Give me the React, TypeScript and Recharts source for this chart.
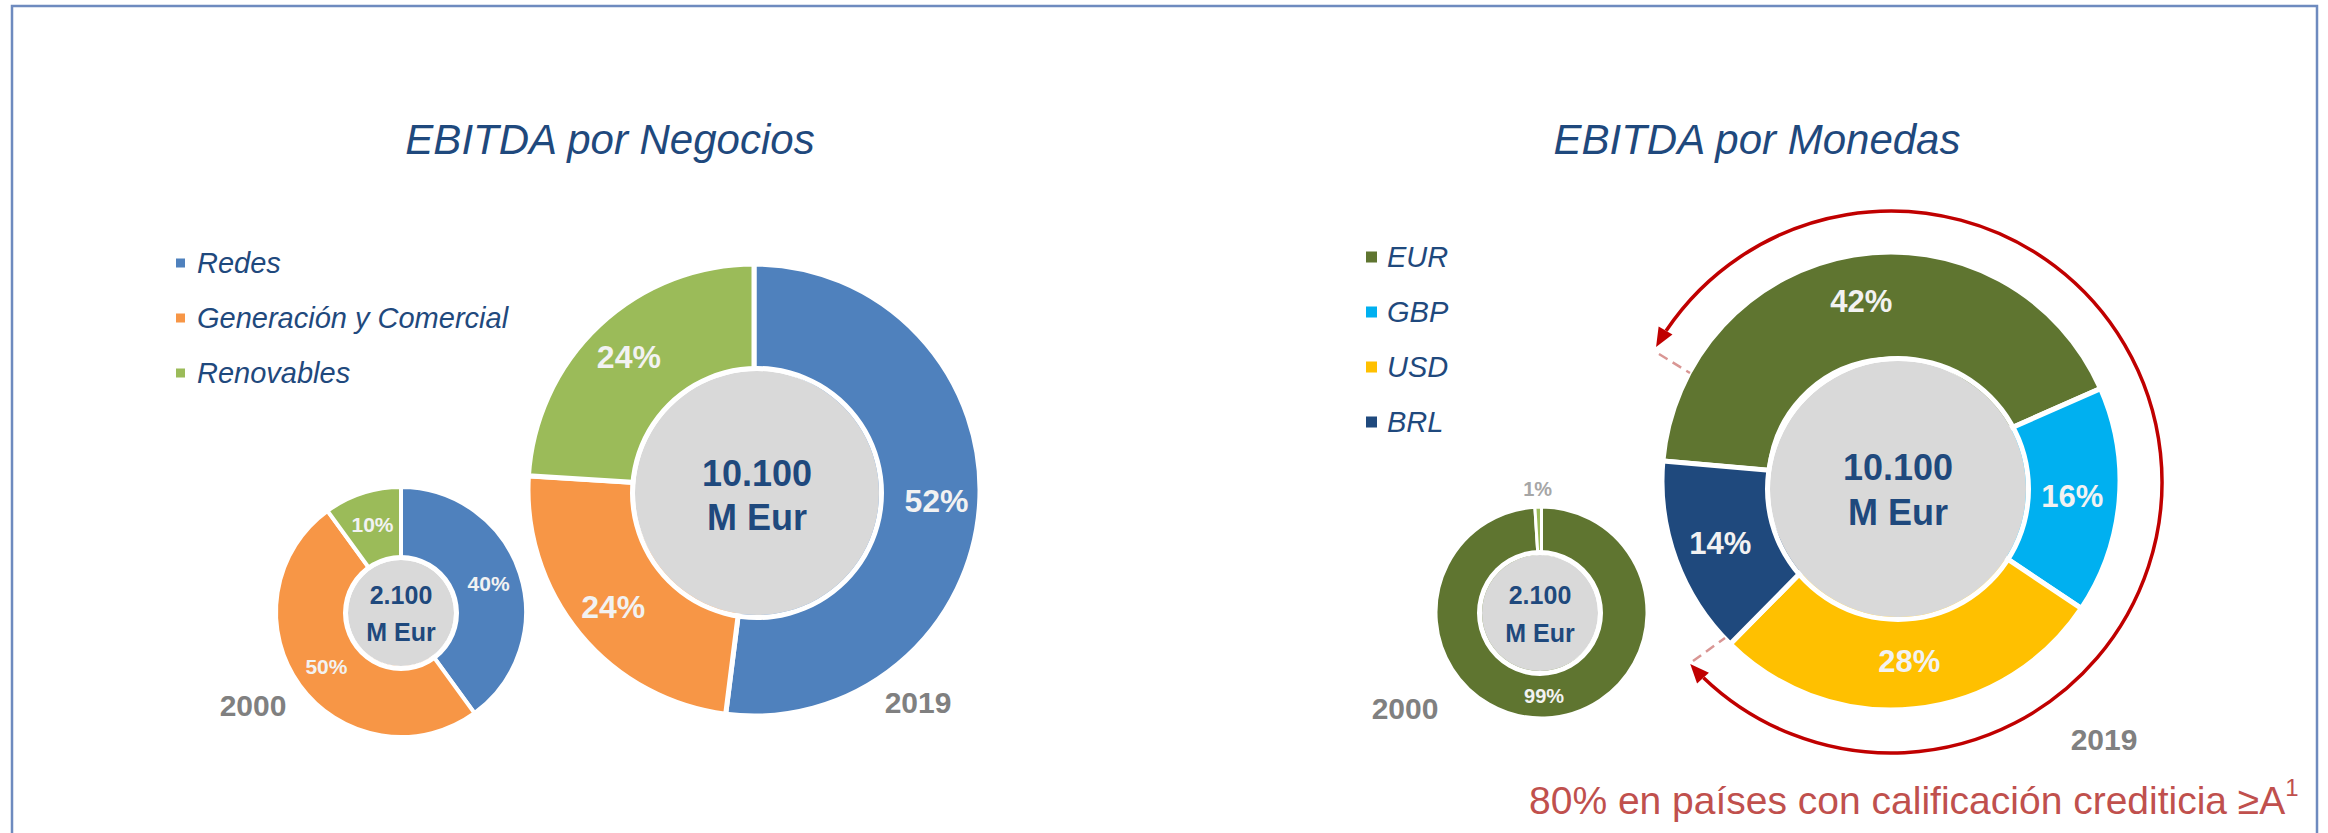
import React from 'react';
import { PieChart, Pie, Cell } from 'recharts';

document.body.style.margin = '0';

const negocios = ['Redes', 'Generación y Comercial', 'Renovables'];
const coloresNegocios = ['#4F81BD', '#F79646', '#9BBB59'];
const negocios2000 = [40, 50, 10];
const negocios2019 = [52, 24, 24];

const monedas = ['EUR', 'GBP', 'USD', 'BRL'];
const coloresMonedas = ['#5F7530', '#00B0F0', '#FFC000', '#1F497D'];
const monedas2019 = [42, 16, 28, 14];
const monedas2000Nombres = ['EUR', 'Otras'];
const monedas2000 = [99, 1];
const coloresMonedas2000 = ['#5F7530', '#9BBB59'];

const totales = ['2.100', '10.100'];
const anios = ['2000', '2019'];
const centro = [{ name: 'total', value: 1 }];

const FONT = '"Liberation Sans", Arial, sans-serif';
const AZUL = '#1F497D';
const GRIS = '#808080';
const RAD = Math.PI / 180;

const toData = (names: string[], values: number[]) =>
  names.map((name, i) => ({ name, value: values[i] }));

const pctLabel = (fontSize: number, f: number) => (p: any) => {
  const small = p.value < 5;
  const r = small ? p.outerRadius + 18 : p.innerRadius + (p.outerRadius - p.innerRadius) * f;
  const x = p.cx + r * Math.cos(-p.midAngle * RAD);
  const y = p.cy + r * Math.sin(-p.midAngle * RAD);
  return (
    <text
      x={x}
      y={y}
      fill={small ? '#A6A6A6' : '#F2F2F2'}
      fontSize={fontSize}
      fontWeight="bold"
      textAnchor="middle"
      dominantBaseline="central"
    >
      {p.value}%
    </text>
  );
};

// circulo gris con borde blanco en el hueco de cada donut
const Hueco = ({ cx, cy, r, ring }: { cx: number; cy: number; r: number; ring: number }) => [
  <Pie key={`g${cx}`} data={centro} dataKey="value" cx={cx} cy={cy} outerRadius={r} startAngle={90} endAngle={-270}
    fill="#D9D9D9" stroke="none" isAnimationActive={false} />,
  <Pie key={`w${cx}`} data={centro} dataKey="value" cx={cx} cy={cy} innerRadius={r} outerRadius={r + ring} startAngle={90}
    endAngle={-270} fill="#fff" stroke="none" isAnimationActive={false} />,
];

// flecha roja alrededor del donut de monedas
const ARC = { cx: 1891, cy: 482, r: 271 };
const pt = (deg: number) => [ARC.cx + ARC.r * Math.cos(deg * RAD), ARC.cy - ARC.r * Math.sin(deg * RAD)];
const HEAD = 19;
const arrowHead = (deg: number, sign: number) => {
  const [tx, ty] = pt(deg);
  const dx = -Math.sin(deg * RAD) * sign;
  const dy = -Math.cos(deg * RAD) * sign;
  const bx = tx - dx * HEAD, by = ty - dy * HEAD;
  const nx = -dy * 8, ny = dx * 8;
  return `${tx},${ty} ${bx + nx},${by + ny} ${bx - nx},${by - ny}`;
};
const TIP_TOP = 150.1;
const TIP_BOTTOM = -137.8;
const arcPath = () => {
  const a = TIP_TOP - HEAD / ARC.r / RAD;
  const b = TIP_BOTTOM + HEAD / ARC.r / RAD;
  const [x1, y1] = pt(a);
  const [x2, y2] = pt(b);
  return `M ${x1} ${y1} A ${ARC.r} ${ARC.r} 0 1 1 ${x2} ${y2}`;
};

const App: React.FC = () => {
  return (
    <div style={{ position: 'relative', width: 2328, height: 833, background: '#fff', fontFamily: FONT, overflow: 'hidden' }}>
      <div style={{ position: 'absolute', left: 0, top: 0 }}>
        <PieChart width={2328} height={833} margin={{ top: 0, right: 0, bottom: 0, left: 0 }}>
          <Pie
            data={toData(negocios, negocios2000)}
            dataKey="value"
            cx={401}
            cy={612}
            innerRadius={52}
            outerRadius={125}
            startAngle={90}
            endAngle={-270}
            stroke="#fff"
            strokeWidth={4}
            label={pctLabel(21, 0.55)}
            labelLine={false}
            isAnimationActive={false}
          >
            {negocios.map((n, i) => (
              <Cell key={n} fill={coloresNegocios[i]} />
            ))}
          </Pie>
          {Hueco({ cx: 401, cy: 613, r: 53, ring: 5 })}
          <Pie
            data={toData(negocios, negocios2019)}
            dataKey="value"
            cx={754}
            cy={490}
            innerRadius={118}
            outerRadius={226}
            startAngle={90}
            endAngle={-270}
            stroke="#fff"
            strokeWidth={5}
            label={pctLabel(32, 0.6)}
            labelLine={false}
            isAnimationActive={false}
          >
            {negocios.map((n, i) => (
              <Cell key={n} fill={coloresNegocios[i]} />
            ))}
          </Pie>
          {Hueco({ cx: 757, cy: 493, r: 122, ring: 5 })}
          <Pie
            data={toData(monedas2000Nombres, monedas2000)}
            dataKey="value"
            cx={1541.5}
            cy={612.5}
            innerRadius={56}
            outerRadius={105.5}
            startAngle={90}
            endAngle={-270}
            stroke="#fff"
            strokeWidth={3}
            label={pctLabel(20, 0.55)}
            labelLine={false}
            isAnimationActive={false}
          >
            {monedas2000Nombres.map((n, i) => (
              <Cell key={n} fill={coloresMonedas2000[i]} />
            ))}
          </Pie>
          {Hueco({ cx: 1540, cy: 613, r: 58, ring: 5 })}
          <Pie
            data={toData(monedas, monedas2019)}
            dataKey="value"
            cx={1891}
            cy={481}
            innerRadius={122}
            outerRadius={229}
            startAngle={175}
            endAngle={-185}
            stroke="#fff"
            strokeWidth={5}
            label={pctLabel(31, 0.56)}
            labelLine={false}
            isAnimationActive={false}
          >
            {monedas.map((n, i) => (
              <Cell key={n} fill={coloresMonedas[i]} />
            ))}
          </Pie>
          {Hueco({ cx: 1898, cy: 489, r: 128, ring: 5 })}
        </PieChart>
      </div>

      <svg width={2328} height={833} style={{ position: 'absolute', left: 0, top: 0, pointerEvents: 'none' }}>
        <rect x={12} y={6} width={2305} height={900} fill="none" stroke="#6E8BBF" strokeWidth={2.5} />

        <text x={610} y={139} fontSize={42} fontStyle="italic" fill={AZUL} textAnchor="middle" dominantBaseline="central">
          EBITDA por Negocios
        </text>
        <text x={1757} y={139} fontSize={42} fontStyle="italic" fill={AZUL} textAnchor="middle" dominantBaseline="central">
          EBITDA por Monedas
        </text>

        {negocios.map((n, i) => (
          <g key={n}>
            <rect x={176} y={263 + i * 55 - 4.5} width={9} height={9} fill={coloresNegocios[i]} />
            <text x={197} y={263 + i * 55} fontSize={29} fontStyle="italic" fill={AZUL} dominantBaseline="central">{n}</text>
          </g>
        ))}
        {monedas.map((n, i) => (
          <g key={n}>
            <rect x={1366} y={257 + i * 55 - 5.5} width={11} height={11} fill={coloresMonedas[i]} />
            <text x={1387} y={257 + i * 55} fontSize={29} fontStyle="italic" fill={AZUL} dominantBaseline="central">{n}</text>
          </g>
        ))}

        <g fill={AZUL} fontWeight="bold" textAnchor="middle" dominantBaseline="central">
          <text x={401} y={595} fontSize={25}>{totales[0]}</text>
          <text x={401} y={632} fontSize={25}>M Eur</text>
          <text x={757} y={473} fontSize={36}>{totales[1]}</text>
          <text x={757} y={517} fontSize={36}>M Eur</text>
          <text x={1540} y={595} fontSize={25}>{totales[0]}</text>
          <text x={1540} y={633} fontSize={25}>M Eur</text>
          <text x={1898} y={467} fontSize={36}>{totales[1]}</text>
          <text x={1898} y={512} fontSize={36}>M Eur</text>
        </g>

        <g fill={GRIS} fontWeight="bold" fontSize={30} textAnchor="middle" dominantBaseline="central">
          <text x={253} y={705}>{anios[0]}</text>
          <text x={918} y={702}>{anios[1]}</text>
          <text x={1405} y={708}>{anios[0]}</text>
          <text x={2104} y={739}>{anios[1]}</text>
        </g>

        <line x1={1659} y1={354} x2={1690} y2={373} stroke="#D99694" strokeWidth={2.5} strokeDasharray="10 6" />
        <line x1={1693} y1={661} x2={1725} y2={638} stroke="#D99694" strokeWidth={2.5} strokeDasharray="10 6" />
        <path d={arcPath()} fill="none" stroke="#C00000" strokeWidth={3.5} />
        <polygon points={arrowHead(TIP_TOP, 1)} fill="#C00000" />
        <polygon points={arrowHead(TIP_BOTTOM, -1)} fill="#C00000" />

        <text x={1529} y={800} fontSize={39} fill="#C0504D" dominantBaseline="central">
          80% en países con calificación crediticia ≥A
          <tspan fontSize={24} dy={-13}>1</tspan>
        </text>
      </svg>
    </div>
  );
};

export default App;
